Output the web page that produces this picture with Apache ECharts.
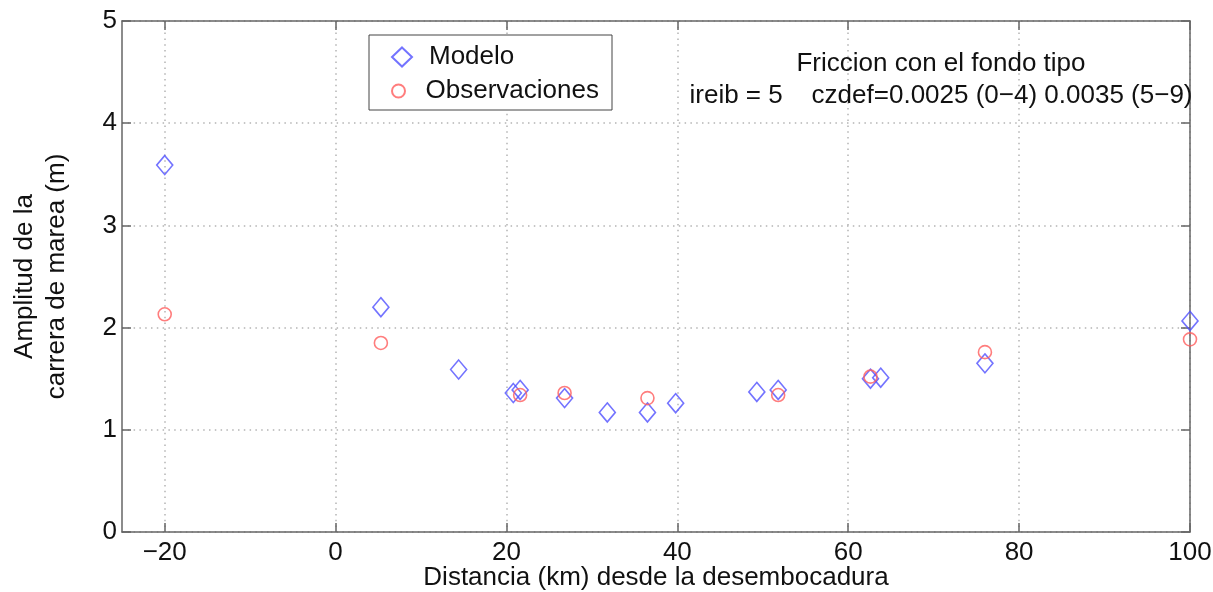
<!DOCTYPE html>
<html>
<head>
    <meta charset="utf-8">
    <title>Amplitud de la carrera de marea</title>
    <script src="https://cdn.jsdelivr.net/npm/echarts@6/dist/echarts.min.js"></script>
    <style>
      html, body { margin: 0; padding: 0; background: #fff; }
      #chart { width: 1213px; height: 592px; }
    </style>
</head>
<body>
<div id="chart"></div>
<script>
// datos
var modeloX = [-20, 5.3, 14.4, 20.8, 21.6, 26.8, 31.8, 36.5, 39.8, 49.3, 51.8, 62.6, 63.8, 76.0, 100];
var modeloY = [3.59, 2.20, 1.59, 1.36, 1.39, 1.31, 1.17, 1.17, 1.26, 1.37, 1.39, 1.50, 1.51, 1.65, 2.065];
var obsX = [-20, 5.3, 21.6, 26.8, 36.5, 51.8, 62.6, 76.0, 100];
var obsY = [2.13, 1.85, 1.34, 1.36, 1.31, 1.34, 1.52, 1.76, 1.885];
var xTicks = [-20, 0, 20, 40, 60, 80, 100];

var fuente = "'Liberation Sans', Arial, Helvetica, sans-serif";
var fs = 26;
var ejeColor = '#666';
var gridLine = { show: true, lineStyle: { color: '#b4b4b4', width: 1.5, type: [1.5, 4.3] } };

function pares(xs, ys) {
    var out = [];
    for (var i = 0; i < xs.length; i++) out.push([xs[i], ys[i]]);
    return out;
}
function menos(v) { return String(v).replace('-', '\u2212'); }

var xBase = {
    type: 'value', min: -25, max: 100,
    axisLine: { show: true, onZero: false, lineStyle: { color: ejeColor, width: 1.5 } },
    axisTick: { show: true, inside: true, length: 9, customValues: xTicks, lineStyle: { color: ejeColor, width: 1.5 } },
    axisLabel: { show: true, customValues: xTicks, formatter: menos, color: '#111', fontSize: fs, fontFamily: fuente, lineHeight: 22, margin: 10 },
    splitLine: gridLine
};
var yBase = {
    type: 'value', min: 0, max: 5, interval: 1,
    axisLine: { show: true, onZero: false, lineStyle: { color: ejeColor, width: 1.5 } },
    axisTick: { show: true, inside: true, length: 9, lineStyle: { color: ejeColor, width: 1.5 } },
    axisLabel: { show: true, color: '#111', fontSize: fs, fontFamily: fuente, margin: 5 },
    splitLine: gridLine
};
var legendText = { color: '#111', fontSize: fs, fontFamily: fuente, lineHeight: 26, padding: [0, 0, 0, 12] };

var option = {
    animation: false,
    backgroundColor: '#fff',
    grid: { left: 122, right: 23, top: 21, bottom: 60, outerBoundsMode: 'none', containLabel: false },
    xAxis: [
        echarts.util.merge(echarts.util.clone(xBase), {
            position: 'bottom',
            name: 'Distancia (km) desde la desembocadura', nameLocation: 'middle', nameGap: 33,
            nameMoveOverlap: false,
            nameTextStyle: { color: '#111', fontSize: fs, fontFamily: fuente, lineHeight: 26 }
        }, true),
        echarts.util.merge(echarts.util.clone(xBase), {
            position: 'top', axisLabel: { show: false }, splitLine: { show: false }
        }, true)
    ],
    yAxis: [
        echarts.util.merge(echarts.util.clone(yBase), {
            position: 'left',
            name: 'Amplitud de la\ncarrera de marea (m)', nameLocation: 'middle', nameGap: 49, nameRotate: 90,
            nameMoveOverlap: false,
            nameTextStyle: { color: '#111', fontSize: fs, fontFamily: fuente, lineHeight: 32, align: 'center' }
        }, true),
        echarts.util.merge(echarts.util.clone(yBase), {
            position: 'right', axisLabel: { show: false }, splitLine: { show: false }
        }, true)
    ],
    legend: [{
        left: 391, top: 44, padding: 0, orient: 'vertical',
        itemWidth: 20, itemHeight: 19,
        textStyle: legendText,
        data: ['Modelo']
    }, {
        left: 391, top: 78, padding: 0, orient: 'vertical',
        itemWidth: 20, itemHeight: 13,
        textStyle: legendText,
        data: ['Observaciones']
    }],
    graphic: [{
        type: 'rect', z: 3,
        shape: { x: 369, y: 35, width: 243, height: 75 },
        style: { fill: '#fff', stroke: '#444', lineWidth: 1 }
    }, {
        type: 'text', x: 941, y: 80, z: 10,
        style: {
            text: 'Friccion con el fondo tipo\nireib = 5    czdef=0.0025 (0\u22124) 0.0035 (5\u22129)',
            font: fs + 'px ' + fuente, fill: '#111', align: 'center', verticalAlign: 'middle', lineHeight: 32
        }
    }],
    series: [{
        name: 'Modelo', type: 'scatter', symbol: 'diamond', symbolSize: [16, 19],
        xAxisIndex: 0, yAxisIndex: 0,
        itemStyle: { color: 'rgba(0,0,0,0)', borderColor: '#5050ff', borderWidth: 1.6 },
        data: pares(modeloX, modeloY)
    }, {
        name: 'Observaciones', type: 'scatter', symbol: 'circle', symbolSize: 13,
        xAxisIndex: 0, yAxisIndex: 0,
        itemStyle: { color: 'rgba(0,0,0,0)', borderColor: '#ff5c5c', borderWidth: 1.6 },
        data: pares(obsX, obsY)
    }]
};

var chart = echarts.init(document.getElementById('chart'), null, { renderer: 'canvas' });
chart.setOption(option);
window.onresize = function () { chart.resize(); };
</script>
</body>
</html>
